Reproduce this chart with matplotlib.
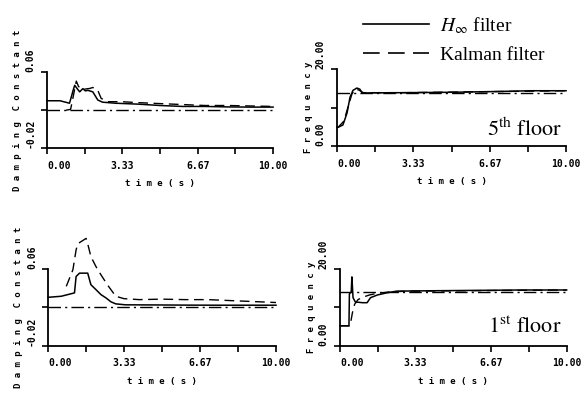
import matplotlib
matplotlib.use("Agg")
import matplotlib.pyplot as plt
from matplotlib.lines import Line2D

plt.rcParams['mathtext.fontset'] = 'stix'

# ---------------- data ----------------
x_ticks = [0, 1.667, 3.333, 5.0, 6.667, 8.333, 10.0]
x_tick_labels = ['0.00', '', '3.33', '', '6.67', '', '10.00']
damp_ticks = [-0.02, 0.02, 0.06]
damp_tick_labels = ['-0.02', '', '0.06']
freq_ticks = [0, 10, 20]
freq_tick_labels = ['0.00', '', '20.00']

true_t = [0, 10]
true_damp = [0.02, 0.02]
true_freq5 = [13.9, 13.9]
true_freq1 = [14.0, 14.0]

# 5th floor damping
t_d5_hinf = [0, 0.58, 1.0, 1.08, 1.16, 1.23, 1.3, 1.45, 1.59, 1.7, 1.81, 2.03, 2.25, 2.46,
             3.04, 4.06, 5.0, 6.0, 7.0, 8.0, 9.0, 10.0]
v_d5_hinf = [0.030, 0.030, 0.0274, 0.034, 0.041, 0.0463, 0.044, 0.0394, 0.0428, 0.0404, 0.041,
             0.0394, 0.0308, 0.0285, 0.0274, 0.0264, 0.025, 0.024, 0.024, 0.0235, 0.0233, 0.0233]
t_d5_kal = [0.85, 1.05, 1.16, 1.3, 1.4, 1.59, 1.9, 2.03, 2.25, 2.4, 2.7, 3.3, 4.06,
            5.0, 6.0, 7.0, 8.0, 9.0, 10.0]
v_d5_kal = [0.020, 0.021, 0.034, 0.0507, 0.045, 0.042, 0.043, 0.044, 0.041, 0.0325,
            0.029, 0.029, 0.028, 0.027, 0.026, 0.025, 0.025, 0.0245, 0.024]

# 1st floor damping
t_d1_hinf = [0, 0.58, 1.16, 1.23, 1.38, 1.74, 1.88, 2.1, 2.32, 2.54, 2.76, 2.97, 3.4,
             4.5, 6.0, 7.5, 9.0, 10.0]
v_d1_hinf = [0.0304, 0.0315, 0.035, 0.052, 0.0555, 0.0555, 0.0435, 0.0384, 0.0332, 0.0298,
             0.0257, 0.0236, 0.0226, 0.0225, 0.0223, 0.0222, 0.0222, 0.0222]
t_d1_kal = [0.8, 1.09, 1.23, 1.3, 1.67, 1.74, 1.88, 2.1, 2.32, 2.6, 2.97, 3.33,
            4.0, 5.0, 6.0, 7.0, 8.0, 9.0, 10.0]
v_d1_kal = [0.0418, 0.059, 0.0796, 0.086, 0.0916, 0.086, 0.0727, 0.0624,
            0.0538, 0.0435, 0.0315, 0.029, 0.028, 0.0285, 0.028, 0.028, 0.027, 0.026, 0.025]

# 5th floor frequency
t_f5_hinf = [0, 0.05, 0.26, 0.44, 0.57, 0.7, 0.87, 1.0, 1.1, 1.5, 3.0, 5.0, 7.0, 8.5, 10.0]
v_f5_hinf = [4.9, 4.9, 5.5, 8.6, 12.7, 14.5, 15.1, 14.8, 13.8, 13.85, 13.9, 14.0, 14.2, 14.4, 14.4]
t_f5_kal = [0, 0.05, 0.3, 0.5, 0.65, 0.8, 0.95, 1.15, 3.0, 10.0]
v_f5_kal = [4.9, 4.9, 6.5, 10.5, 13.5, 14.8, 14.6, 13.9, 13.9, 14.4]

# 1st floor frequency
t_f1_hinf = [0, 0.4, 0.42, 0.5, 0.53, 0.58, 0.68, 1.0, 1.2, 1.35, 1.65, 2.1, 2.5,
             4.0, 6.0, 8.0, 10.0]
v_f1_hinf = [5.2, 5.2, 13.5, 14.0, 17.9, 12.5, 11.4, 11.2, 11.2, 12.5, 13.2, 13.8, 14.2,
             14.3, 14.4, 14.5, 14.5]
t_f1_kal = [0, 0.45, 0.55, 0.65, 0.8, 1.0, 1.3, 1.7, 2.2, 3.0, 10.0]
v_f1_kal = [5.2, 5.2, 8.5, 10.8, 12.0, 12.6, 13.2, 13.7, 14.0, 14.2, 14.5]

# ---------------- styles ----------------
TICKFONT = dict(family='DejaVu Sans Mono', weight='bold', size=7)
LABELFONT = dict(family='DejaVu Sans Mono', weight='bold', size=6.5)
SOLID = dict(color='black', lw=1.1, solid_joinstyle='round')
DASH = dict(color='black', lw=1.0, dashes=(7, 4))
DASHDOT = dict(color='black', lw=1.0, dashes=(9, 3, 1.5, 3))


def spaced(s):
    return ' '.join(s)


def setup(ax, yticks, ylabels, ylim, ylabel, ylab_x):
    ax.set_xlim(0, 10)
    ax.set_ylim(*ylim)
    for sp in ['top', 'right']:
        ax.spines[sp].set_visible(False)
    for sp in ['left', 'bottom']:
        ax.spines[sp].set_linewidth(1.3)
    ax.set_xticks(x_ticks)
    ax.set_xticklabels(x_tick_labels, fontdict=TICKFONT)
    ax.get_xticklabels()[0].set_ha('left')
    ax.set_yticks(yticks)
    ax.set_yticklabels(ylabels, fontdict=TICKFONT, rotation=90, va='bottom')
    ax.tick_params(axis='both', direction='out', length=4, width=1.2, pad=4)
    ax.tick_params(axis='x', pad=5)
    ax.set_xlabel(spaced('time') + ' ' + spaced('(s)'), fontdict=LABELFONT)
    ax.xaxis.set_label_coords(0.5, -0.40)
    ax.set_ylabel(ylabel, fontdict=LABELFONT)
    ax.yaxis.set_label_coords(ylab_x, 0.5)


fig = plt.figure(figsize=(5.86, 3.93), dpi=100)
ax_tl = fig.add_axes([0.080, 0.623, 0.386, 0.193])
ax_tr = fig.add_axes([0.575, 0.628, 0.391, 0.196])
ax_bl = fig.add_axes([0.082, 0.120, 0.389, 0.196])
ax_br = fig.add_axes([0.580, 0.120, 0.387, 0.196])

damp_label = spaced('Damping') + '  ' + spaced('Constant')
freq_label = spaced('Frequency')

for ax, th, vh, tk, vk in [(ax_tl, t_d5_hinf, v_d5_hinf, t_d5_kal, v_d5_kal),
                           (ax_bl, t_d1_hinf, v_d1_hinf, t_d1_kal, v_d1_kal)]:
    ax.plot(true_t, true_damp, clip_on=False, **DASHDOT)
    ax.plot(tk, vk, clip_on=False, **DASH)
    ax.plot(th, vh, clip_on=False, **SOLID)
    setup(ax, damp_ticks, damp_tick_labels, (-0.02, 0.06), damp_label, -0.108)

for ax, tf, th, vh, tk, vk in [(ax_tr, true_freq5, t_f5_hinf, v_f5_hinf, t_f5_kal, v_f5_kal),
                               (ax_br, true_freq1, t_f1_hinf, v_f1_hinf, t_f1_kal, v_f1_kal)]:
    ax.plot(true_t, tf, clip_on=False, **DASHDOT)
    ax.plot(tk, vk, clip_on=False, **DASH)
    ax.plot(th, vh, clip_on=False, **SOLID)
    setup(ax, freq_ticks, freq_tick_labels, (0, 20), freq_label, -0.104)

ax_tr.text(0.983, 0.23, r'$\mathrm{5^{th}\ floor}$', transform=ax_tr.transAxes,
           ha='right', va='center', fontsize=16)
ax_br.text(0.978, 0.25, r'$\mathrm{1^{st}\ floor}$', transform=ax_br.transAxes,
           ha='right', va='center', fontsize=16)

handles = [Line2D([], [], color='black', lw=1.2),
           Line2D([], [], color='black', lw=1.2, dashes=(10, 5))]
fig.legend(handles, [r'$H_\infty$ filter', 'Kalman filter'],
           loc='upper left', bbox_to_anchor=(0.619, 0.962), frameon=False,
           prop={'family': 'Liberation Serif', 'size': 14},
           handlelength=3.4, handletextpad=0.55, labelspacing=0.55,
           borderpad=0, borderaxespad=0)

fig.savefig('out.png', dpi=100, facecolor='white')
